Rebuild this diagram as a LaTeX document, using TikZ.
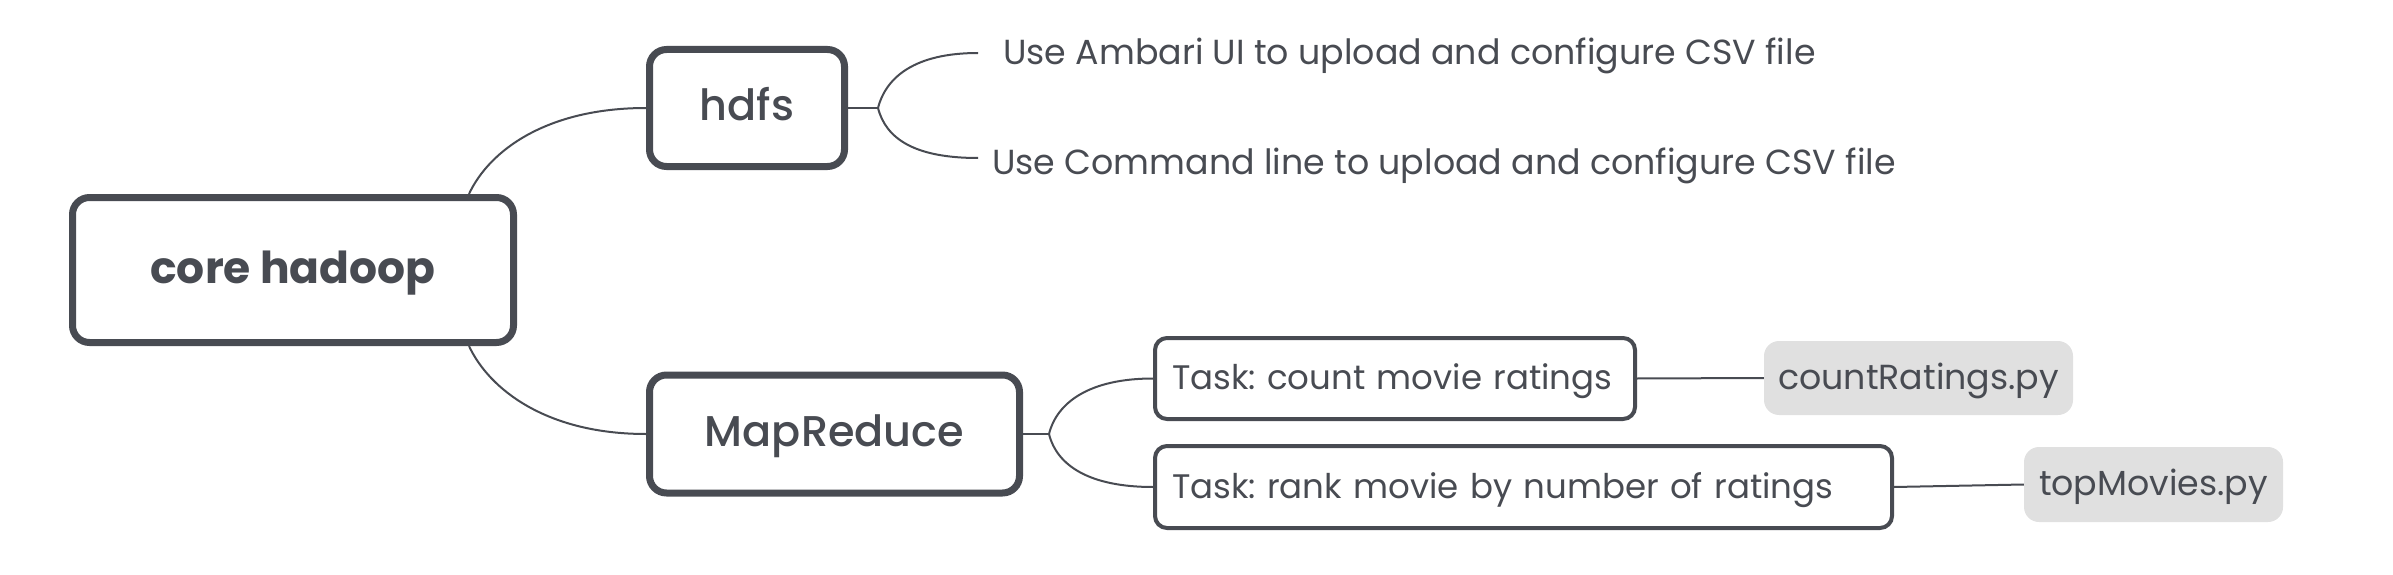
\documentclass[tikz,border=0pt]{standalone}
\usepackage{fontspec}
\setmainfont{Poppins}
\newfontfamily\medfont{Poppins Medium}
\usetikzlibrary{calc}
\definecolor{ink}{HTML}{484B52}
\definecolor{codefill}{HTML}{E0E0E0}
\frenchspacing
\begin{document}
\begin{tikzpicture}[x=1pt,y=-1pt,
  regfont/.style={font=\fontsize{34.8}{40}\selectfont, text height=24.4pt, text depth=1.7pt},
  mainbox/.style={draw=ink, line width=7pt, rounded corners=17pt, fill=white, text=ink, inner sep=0pt},
  taskbox/.style={draw=ink, line width=4pt, rounded corners=12pt, fill=white, text=ink, inner xsep=17pt, inner ysep=0pt, align=left, font=\fontsize{34}{40}\selectfont, text height=24pt, text depth=1.7pt},
  codebox/.style={fill=codefill, rounded corners=15pt, text=ink, inner sep=0pt, regfont},
  leaf/.style={text=ink, inner sep=0pt, anchor=base west, font=\fontsize{34.8}{40}\selectfont},
  link/.style={draw=ink, line width=2pt}
]
\useasboundingbox (0,0) rectangle (2393,575);
\node[mainbox, minimum width=441pt, minimum height=145pt, font=\fontsize{44}{48}\selectfont\bfseries, text height=30.8pt, text depth=4.4pt] (core) at (293,270) {core hadoop};
\node[mainbox, minimum width=195pt, minimum height=117pt, font=\medfont\fontsize{43}{48}\selectfont, text height=30pt, text depth=4.3pt] (hdfs) at (747,108) {hdfs};
\node[mainbox, minimum width=370pt, minimum height=118pt, font=\medfont\fontsize{43}{48}\selectfont, text height=30pt, text depth=4.3pt] (mr) at (834.5,434) {MapReduce};
\node[leaf] (u1) at (1003,65) {Use Ambari UI to upload and configure CSV file};
\node[leaf] (u2) at (992,174) {Use Command line to upload and configure CSV file};
\node[taskbox, minimum height=81pt, text width=446pt] (t1) at (1395,378.5) {\mbox{Task: count movie ratings}};
\node[taskbox, minimum height=82pt, text width=703pt] (t2) at (1523.5,487) {\mbox{Task: rank movie by number of ratings}};
\node[codebox, minimum width=309pt, minimum height=74pt] (c1) at (1918.5,378) {countRatings.py};
\node[codebox, minimum width=259pt, minimum height=75pt] (c2) at (2153.5,484.5) {topMovies.py};
\coordinate (e1) at (978,53);
\coordinate (e2) at (978,158);
\coordinate (hj) at ($(hdfs.east)+(30,0)$);
\coordinate (mj) at ($(mr.east)+(26,0)$);
\draw[link] ($(core.north east)+(-48,0)$) .. controls +(20,-43) and +(-100,0) .. (hdfs.west);
\draw[link] ($(core.south east)+(-48,0)$) .. controls +(20,43) and +(-100,0) .. (mr.west);
\draw[link] (hdfs.east) -- (hj);
\draw[link] (hj) .. controls +(8,-31) and +(-63,0) .. (e1);
\draw[link] (hj) .. controls +(8,31) and +(-63,0) .. (e2);
\draw[link] (mr.east) -- (mj);
\draw[link] (mj) .. controls +(8,-32) and +(-63,0) .. (t1.west);
\draw[link] (mj) .. controls +(8,32) and +(-63,0) .. (t2.west);
\draw[link] (t1.east) -- (c1.west);
\draw[link] (t2.east) -- (c2.west);
\end{tikzpicture}
\end{document}
